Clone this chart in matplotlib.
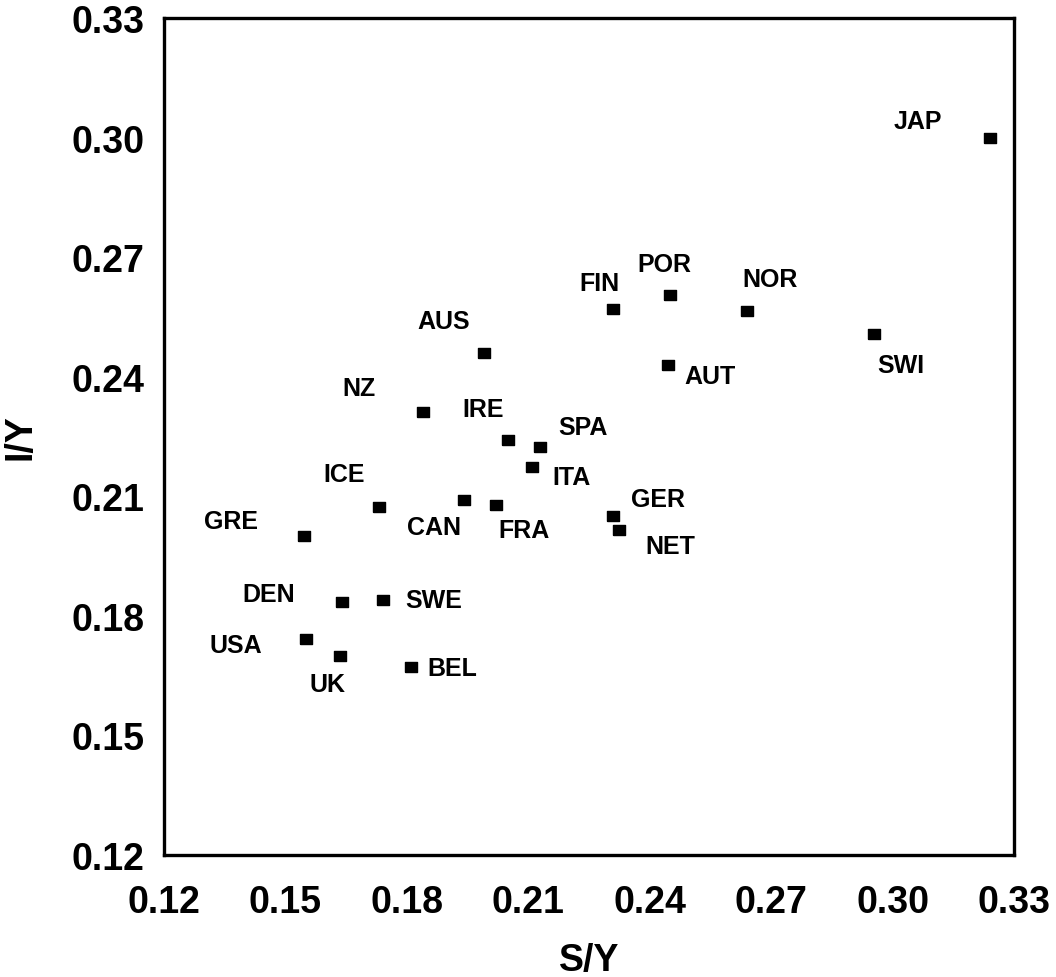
import matplotlib
matplotlib.use("Agg")
import matplotlib.pyplot as plt

countries = ["JAP", "POR", "FIN", "NOR", "SWI", "AUS", "AUT", "NZ", "IRE", "SPA", "ITA",
             "ICE", "CAN", "FRA", "GER", "NET", "GRE", "DEN", "SWE", "USA", "UK", "BEL"]
s_y = [0.324, 0.245, 0.231, 0.264, 0.2955, 0.199, 0.2445, 0.184, 0.205, 0.213, 0.211,
       0.173, 0.194, 0.202, 0.231, 0.2325, 0.1545, 0.164, 0.174, 0.155, 0.1635, 0.181]
i_y = [0.300, 0.2605, 0.257, 0.2565, 0.2507, 0.246, 0.243, 0.2312, 0.224, 0.2224, 0.2174,
       0.2073, 0.209, 0.2078, 0.2051, 0.2016, 0.200, 0.1835, 0.184, 0.1742, 0.170, 0.1672]
# label offsets (points) relative to each marker
label_dx = [-52, -4, -10, 17, 19, -29, 30, -46, -18, 31, 28,
            -25, -21, 20, 32, 37, -52, -53, 37, -50, -9, 30]
label_dy = [12, 22, 19, 23, -22, 23, -8, 17, 23, 14, -7,
            24, -19, -18, 12, -12, 11, 6, 0, -4, -20, -1]

x_ticks = [0.12, 0.15, 0.18, 0.21, 0.24, 0.27, 0.30, 0.33]
y_ticks = [0.12, 0.15, 0.18, 0.21, 0.24, 0.27, 0.30, 0.33]

plt.rcParams['font.family'] = ['Liberation Sans', 'DejaVu Sans']
plt.rcParams['font.weight'] = 'bold'

fig = plt.figure(figsize=(10.56, 9.78), dpi=100)
ax = fig.add_axes([0.1553, 0.1247, 0.8049, 0.8559])

rect_marker = [(-1.2, -1.0), (1.2, -1.0), (1.2, 1.0), (-1.2, 1.0), (-1.2, -1.0)]
ax.plot(s_y, i_y, linestyle='none', marker=rect_marker, markersize=9, color='black')

for name, x, y, dx, dy in zip(countries, s_y, i_y, label_dx, label_dy):
    ax.annotate(name, (x, y), xytext=(dx, dy), textcoords='offset points',
                ha='center', va='center', fontsize=18, fontweight='bold')

ax.set_xlim(0.12, 0.33)
ax.set_ylim(0.12, 0.33)
ax.set_xticks(x_ticks)
ax.set_yticks(y_ticks)
ax.set_xticklabels([f"{v:.2f}" for v in x_ticks], fontsize=27, fontweight='bold')
ax.set_yticklabels([f"{v:.2f}" for v in y_ticks], fontsize=27, fontweight='bold')
ax.tick_params(axis='x', length=0, pad=21)
ax.tick_params(axis='y', length=0, pad=14)
for sp in ax.spines.values():
    sp.set_linewidth(2.4)

ax.set_xlabel("S/Y", fontsize=27, fontweight='bold', labelpad=16)
ax.set_ylabel("I/Y", fontsize=27, fontweight='bold', labelpad=24)

fig.savefig("out.png", dpi=100)
